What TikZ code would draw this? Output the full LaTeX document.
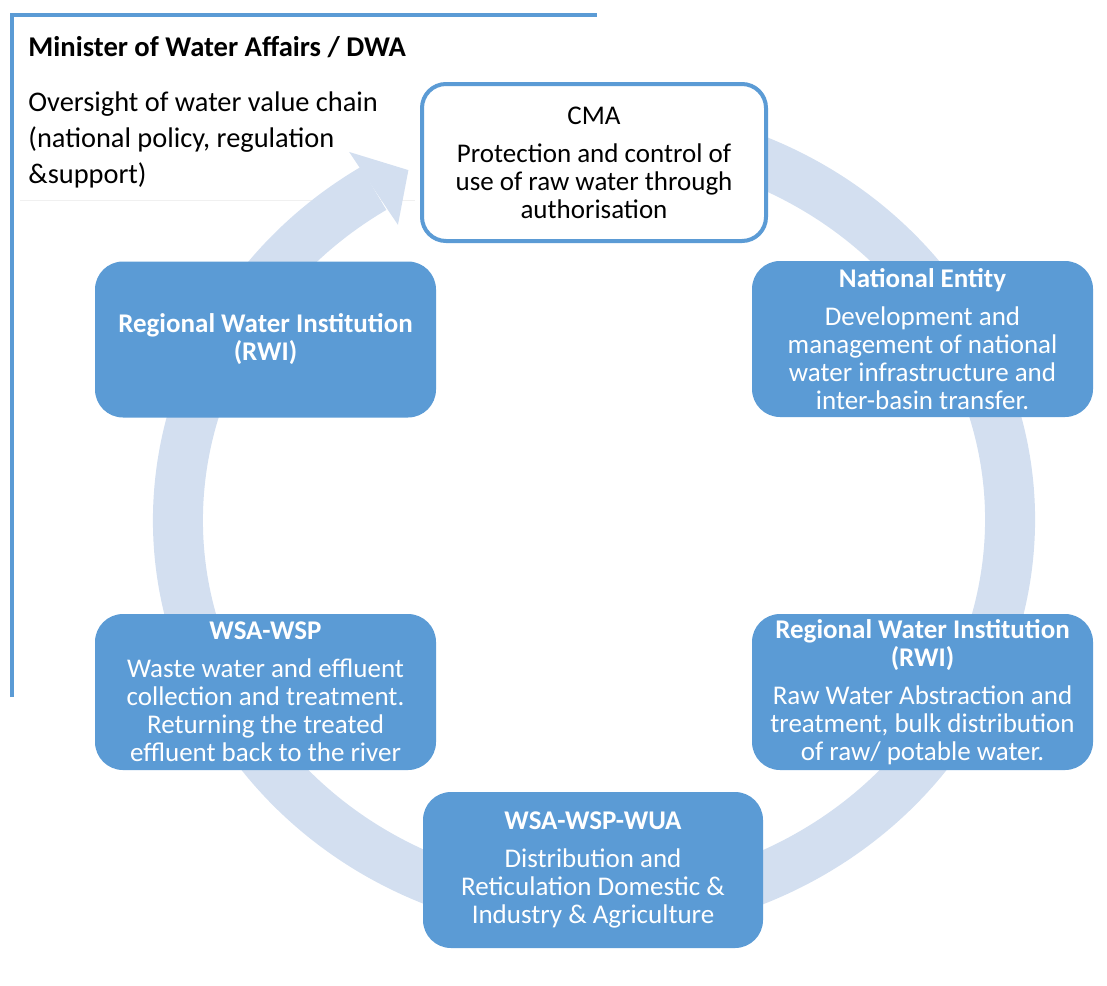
\documentclass[tikz,border=0pt]{standalone}
\usepackage{fontspec}
\setmainfont{Carlito}
\usepackage{tikz}
\usetikzlibrary{calc}
\definecolor{boxblue}{RGB}{91,155,213}
\definecolor{ringblue}{RGB}{211,223,240}
\definecolor{rulegray}{RGB}{240,240,240}

\begin{document}
\begin{tikzpicture}[x=0.5pt,y=0.5pt,
    box/.style={rounded corners=14pt,fill=boxblue,text=white,minimum width=170.5pt,minimum height=78pt,
        align=center,inner sep=0pt,font=\fontsize{13.5}{14}\selectfont},
    cmabox/.style={rounded corners=12pt,draw=boxblue,line width=2pt,fill=white,minimum width=172pt,
        minimum height=78.5pt,align=center,inner sep=0pt,font=\fontsize{13.5}{14}\selectfont},
    plain/.style={inner sep=0pt,align=left,anchor=west}
    ]
\useasboundingbox (0,0) rectangle (1107,-985);
\coordinate (ctr) at (594,-520);
% minister frame
\draw[rulegray,line width=0.5pt] (20,-200) -- (415,-200);
\draw[boxblue,line width=2pt] (12,-697) -- (12,-15) -- (597,-15);
\node[plain,font=\fontsize{14.3}{14}\selectfont\bfseries] (dwa) at (28,-47) {Minister of Water Affairs / DWA};
\node[plain,font=\fontsize{14.2}{18}\selectfont] (dwatxt) at (28,-140)
    {Oversight of water value chain\\(national policy, regulation\\\&support)};
% cycle ring, rx 416 ry 391
\draw[ringblue,line width=25pt] ($(ctr)+(80:416 and 391)$) arc[start angle=80,end angle=-238,x radius=416,y radius=391];
\fill[ringblue] ($(ctr)+(116.5:416 and 391)$) -- ($(ctr)+(122:462 and 434)$)
    -- ($(ctr)+(122:370 and 348)$) -- cycle;
% stages
\node[cmabox] (cma) at (594,-162.5) {CMA\\[5pt]Protection and control of\\use of raw water through\\authorisation};
\node[box] (natent) at (922.5,-339) {\textbf{National Entity}\\[5pt]Development and\\management of national\\water infrastructure and\\inter-basin transfer.};
\node[box] (rwiR) at (922.5,-692) {\textbf{Regional Water Institution}\\\textbf{(RWI)}\\[5pt]Raw Water Abstraction and\\treatment, bulk distribution\\of raw/ potable water.};
\node[box,minimum width=170pt] (wua) at (593,-870) {\textbf{WSA-WSP-WUA}\\[5pt]Distribution and\\Reticulation Domestic \&\\Industry \& Agriculture};
\node[box] (wsp) at (265.5,-692) {\textbf{WSA-WSP}\\[5pt]Waste water and effluent\\collection and treatment.\\Returning the treated\\effluent back to the river};
\node[box] (rwiL) at (265.5,-339.5) {\textbf{Regional Water Institution}\\\textbf{(RWI)}};
\end{tikzpicture}
\end{document}
